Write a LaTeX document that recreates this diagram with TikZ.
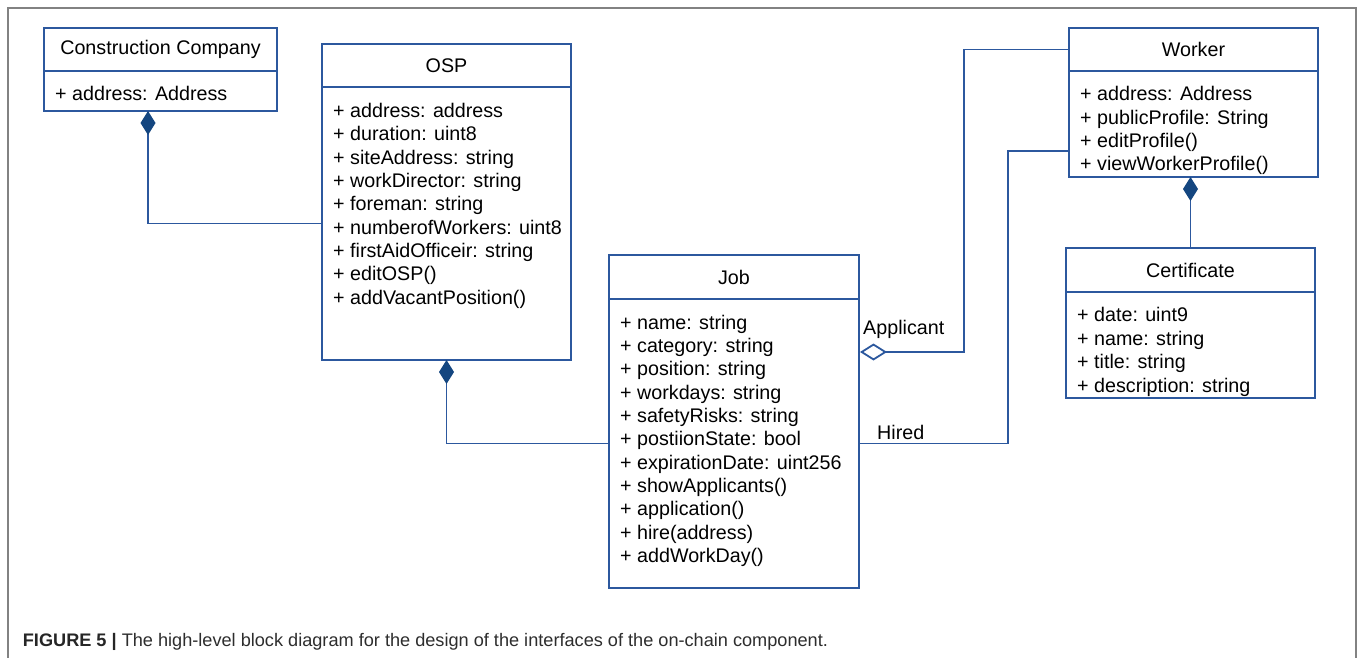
\documentclass[tikz,border=0pt]{standalone}
\usepackage{fontspec}
\setmainfont{Liberation Sans}
\usetikzlibrary{arrows.meta}

\definecolor{umlline}{RGB}{44,88,158}
\definecolor{umlfill}{RGB}{20,70,128}
\definecolor{framegray}{RGB}{130,130,130}
\definecolor{captext}{RGB}{45,45,45}

\begin{document}
\begin{tikzpicture}[
          x=1pt, y=-1pt,
          font=\fontsize{19.7}{23.3}\selectfont,
          classhead/.style={draw=umlline, line width=1.7pt, anchor=north west, inner sep=0pt, outer sep=0pt},
          classbody/.style={draw=umlline, line width=1.7pt, anchor=north west, inner sep=0pt, outer sep=0pt},
          member/.style={anchor=west, inner sep=0pt, text height=14pt, text depth=4pt},
          link/.style={draw=umlline, line width=1.8pt},
          compo/.style={link, -{Diamond[length=24pt, width=15pt, color=umlfill]}},
          aggr/.style={link, -{Diamond[open, length=27pt, width=17pt, fill=white]}},
          role/.style={anchor=west, inner sep=0pt}
        ]
        \useasboundingbox (0,0) rectangle (1360,658);
        \draw[framegray, line width=1.5pt] (8,658) -- (8,8) -- (1356,8) -- (1356,658);

        \node[classhead, minimum width=233pt, minimum height=43pt] (cc-h) at (44,28) {Construction Company};
        \node[classbody, minimum width=233pt, minimum height=40pt] (cc-b) at (cc-h.south west) {};
        \node[member] (cc-m1) at (55,95.5) {+ address: Address};

        \node[classhead, minimum width=249pt, minimum height=43pt] (osp-h) at (322,44) {OSP};
        \node[classbody, minimum width=249pt, minimum height=273pt] (osp-b) at (osp-h.south west) {};
        \foreach \t [count=\i] in {+ address: address, + duration: uint8, + siteAddress: string,
            + workDirector: string, + foreman: string, + numberofWorkers: uint8,
            + firstAidOfficeir: string, + editOSP(), + addVacantPosition()}
          \node[member] (osp-m\i) at (333,{112.5+(\i-1)*23.33}) {\t};

        \node[classhead, minimum width=250pt, minimum height=44pt] (job-h) at (609,255) {Job};
        \node[classbody, minimum width=250pt, minimum height=289pt] (job-b) at (job-h.south west) {};
        \foreach \t [count=\i] in {+ name: string, + category: string, + position: string,
            + workdays: string, + safetyRisks: string, + postiionState: bool,
            + expirationDate: uint256, + showApplicants(), + application(),
            + hire(address), + addWorkDay()}
          \node[member] (job-m\i) at (620,{324.2+(\i-1)*23.33}) {\t};

        \node[classhead, minimum width=249pt, minimum height=43pt] (wk-h) at (1069,28) {Worker};
        \node[classbody, minimum width=249pt, minimum height=106pt] (wk-b) at (wk-h.south west) {};
        \foreach \t [count=\i] in {+ address: Address, + publicProfile: String,
            + editProfile(), + viewWorkerProfile()}
          \node[member] (wk-m\i) at (1080,{95.8+(\i-1)*23.33}) {\t};

        \node[classhead, minimum width=249pt, minimum height=44pt] (ct-h) at (1066,248) {Certificate};
        \node[classbody, minimum width=249pt, minimum height=106pt] (ct-b) at (ct-h.south west) {};
        \foreach \t [count=\i] in {+ date: uint9, + name: string, + title: string,
            + description: string}
          \node[member] (ct-m\i) at (1077,{316.5+(\i-1)*23.5}) {\t};

        \coordinate (app) at (860,352);
        \coordinate (hire) at (1069,150.7);

        \draw[compo] (osp-b.west) -| ([xshift=104pt]cc-b.south west);
        \draw[compo] (job-b.west) -| (osp-b.south);
        \draw[compo] (ct-h.north) -- (ct-h.north |- wk-b.south);
        \draw[aggr] (wk-h.west) -| ([xshift=104pt]app) -- (app);
        \draw[link] (job-b.east) -| ([xshift=-61pt]hire) -- (hire);

        \node[role] (lbl-app) at (863,329) {Applicant};
        \node[role] (lbl-hired) at (877,432.5) {Hired};

        \node[anchor=base west, inner sep=0pt, text=captext, font=\fontsize{18.15}{22}\selectfont] (caption) at (22.7,646.5)
          {\textbf{\color{black!85}FIGURE 5 |} The high-level block diagram for the design of the interfaces of the on-chain component.};
        \end{tikzpicture}
\end{document}
